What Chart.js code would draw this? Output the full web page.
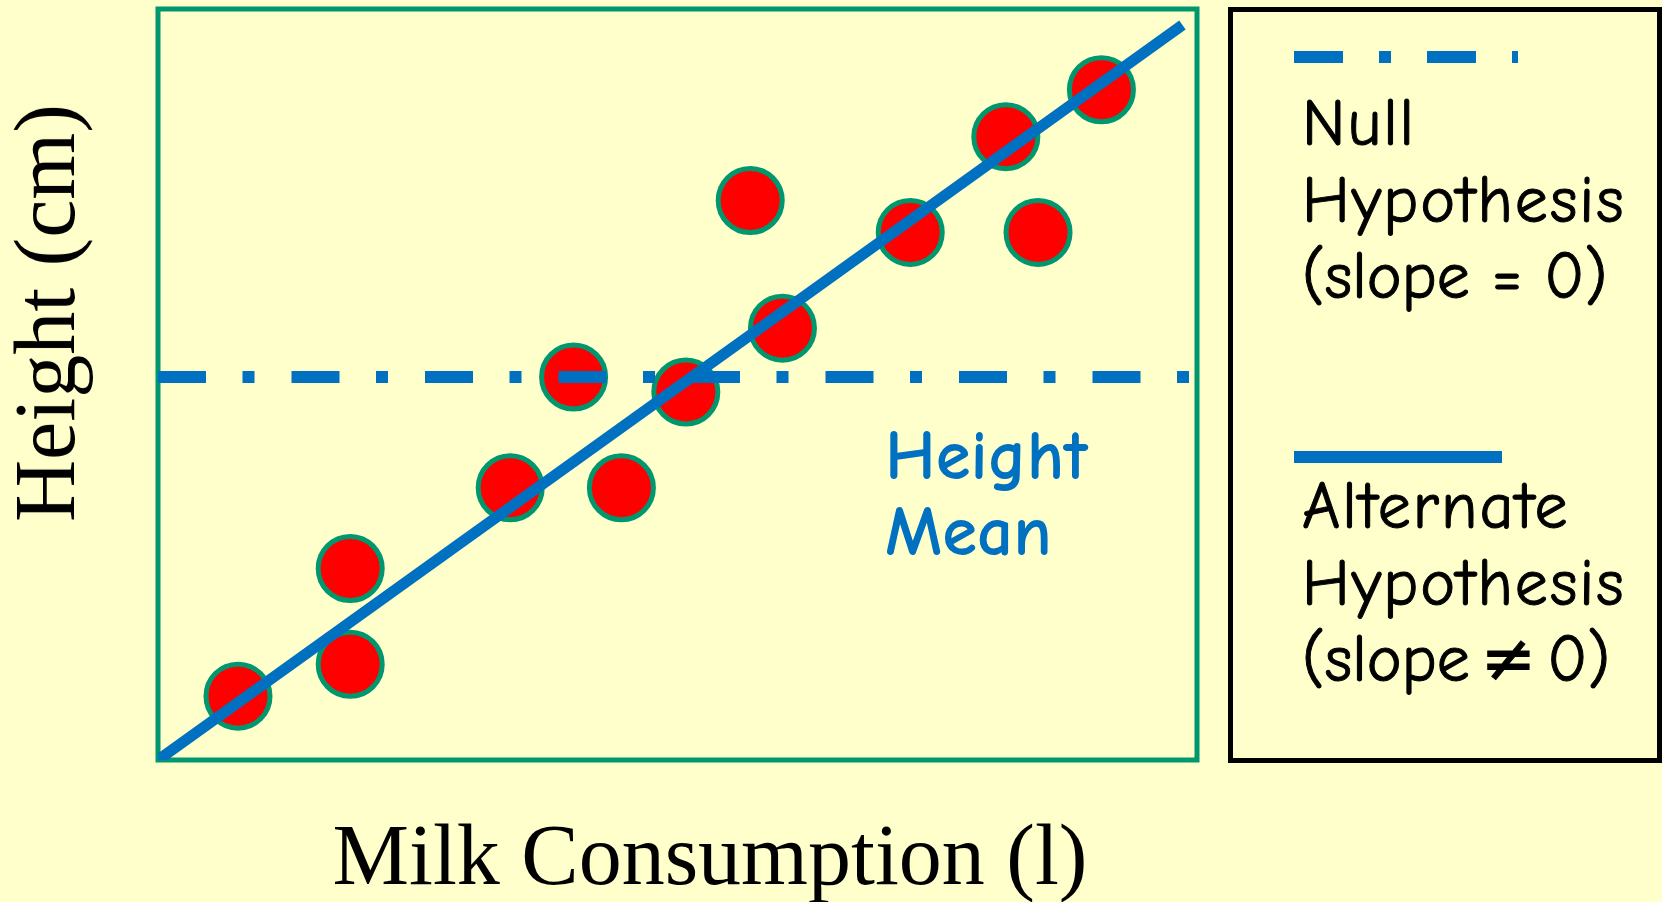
<!DOCTYPE html>
<html>
<head>
<meta charset="utf-8">
<title>Milk Consumption vs Height</title>
<script src="https://cdn.jsdelivr.net/npm/chart.js@4.4.1/dist/chart.umd.min.js"></script>
<style>
  html, body { margin: 0; padding: 0; background: #FFFFCC; }
  #wrap { position: relative; width: 1662px; height: 902px; overflow: hidden; background: #FFFFCC; }
  #myChart { position: absolute; left: 0; top: 0; }
  .serif { position: absolute; font-family: "Liberation Serif", "Times New Roman", serif; font-size: 86px; color: #000; white-space: nowrap; line-height: 1; }
  #ytitle { left: 45px; top: 313px; transform: translate(-50%, -50%) rotate(-90deg); }
  #xtitle { left: 710px; top: 855px; transform: translate(-50%, -50%); }
  .hand { font-family: "Comic Sans MS", "Comic Neue", "DejaVu Sans", sans-serif; white-space: nowrap; }
  #meanLabel { position: absolute; left: 885px; top: 418px; font-size: 71px; font-weight: bold; line-height: 76px; color: #0070C0; }
  #legendBox { position: absolute; left: 1228px; top: 7px; width: 434px; height: 756px; box-sizing: border-box; border: 5px solid #000; }
  .legText { position: absolute; left: 1302px; font-size: 66px; line-height: 76.5px; letter-spacing: 2px; color: #000; -webkit-text-stroke: 1px #000; }
  .legText .slope { letter-spacing: 0; }
  .legText .slopeNe { letter-spacing: 0; word-spacing: -11px; }
  #legNull { top: 86px; }
  #legAlt { top: 469px; }
  .legKey { position: absolute; left: 1294px; }
</style>
</head>
<body>
<div id="wrap">
  <canvas id="myChart" width="1662" height="902"></canvas>
  <div id="ytitle" class="serif">Height (cm)</div>
  <div id="xtitle" class="serif">Milk Consumption (l)</div>
  <div id="meanLabel" class="hand">Height<br>Mean</div>
  <div id="legendBox"></div>
  <svg class="legKey" style="top:51px" width="230" height="12">
    <line x1="0" y1="6" x2="224" y2="6" stroke="#0070C0" stroke-width="12" stroke-dasharray="49 36 12 36"/>
  </svg>
  <div id="legNull" class="legText hand">Null<br>Hypothesis<br><span class="slope">(slope = 0)</span></div>
  <svg class="legKey" style="top:451px" width="210" height="12">
    <line x1="0" y1="6" x2="208" y2="6" stroke="#0070C0" stroke-width="12"/>
  </svg>
  <div id="legAlt" class="legText hand">Alternate<br>Hypothesis<br><span class="slopeNe">(slope ≠ 0)</span></div>
</div>
<script>
// datos
const milkLitres = [0.77, 1.85, 1.85, 3.39, 4.46, 4.00, 5.08, 6.01, 5.70, 7.24, 8.47, 8.16, 9.08];
const heightCm   = [153.4, 155.1, 160.2, 164.5, 164.5, 170.4, 169.6, 173.0, 179.8, 178.1, 178.1, 183.2, 185.7];

// hipótesis nula: recta horizontal en la media
const nullLineX = [0, 10];
const nullLineY = [170.4, 170.4];

// hipótesis alternativa: recta con pendiente
const altLineX = [0, 9.86];
const altLineY = [150, 189.15];

// rango de los ejes (sin marcas visibles)
const xRange = [0, 10];
const yRange = [150, 190];

const toPoints = (xs, ys) => xs.map((x, i) => ({ x: x, y: ys[i] }));

const blue = '#0070C0';
const green = '#00966E';

// marco verde del área de trazado
const plotFrame = {
  id: 'plotFrame',
  beforeDatasetsDraw(chart) {
    const { ctx, chartArea: a } = chart;
    ctx.save();
    ctx.strokeStyle = green;
    ctx.lineWidth = 5;
    ctx.strokeRect(a.left, a.top, a.right - a.left, a.bottom - a.top);
    ctx.restore();
  }
};

const ctx = document.getElementById('myChart').getContext('2d');

const chart = new Chart(ctx, {
  type: 'scatter',
  data: {
    datasets: [
      {
        label: 'Alternate Hypothesis',
        data: toPoints(altLineX, altLineY),
        showLine: true,
        borderColor: blue,
        borderWidth: 11,
        borderCapStyle: 'butt',
        pointRadius: 0,
        order: 0
      },
      {
        label: 'Null Hypothesis',
        data: toPoints(nullLineX, nullLineY),
        showLine: true,
        borderColor: blue,
        borderWidth: 12,
        borderCapStyle: 'butt',
        borderDash: [48, 36.5, 12, 37],
        pointRadius: 0,
        order: 1
      },
      {
        label: 'Height',
        data: toPoints(milkLitres, heightCm),
        showLine: false,
        pointRadius: 32,
        pointHoverRadius: 32,
        backgroundColor: '#FF0000',
        borderColor: green,
        borderWidth: 5,
        order: 2
      }
    ]
  },
  options: {
    responsive: false,
    animation: false,
    devicePixelRatio: 1,
    layout: {
      autoPadding: false,
      padding: { left: 158, top: 9, right: 465, bottom: 142 }
    },
    plugins: {
      legend: { display: false },
      tooltip: { enabled: false }
    },
    scales: {
      x: { type: 'linear', min: xRange[0], max: xRange[1], display: false },
      y: { type: 'linear', min: yRange[0], max: yRange[1], display: false }
    }
  },
  plugins: [plotFrame]
});
</script>
</body>
</html>
